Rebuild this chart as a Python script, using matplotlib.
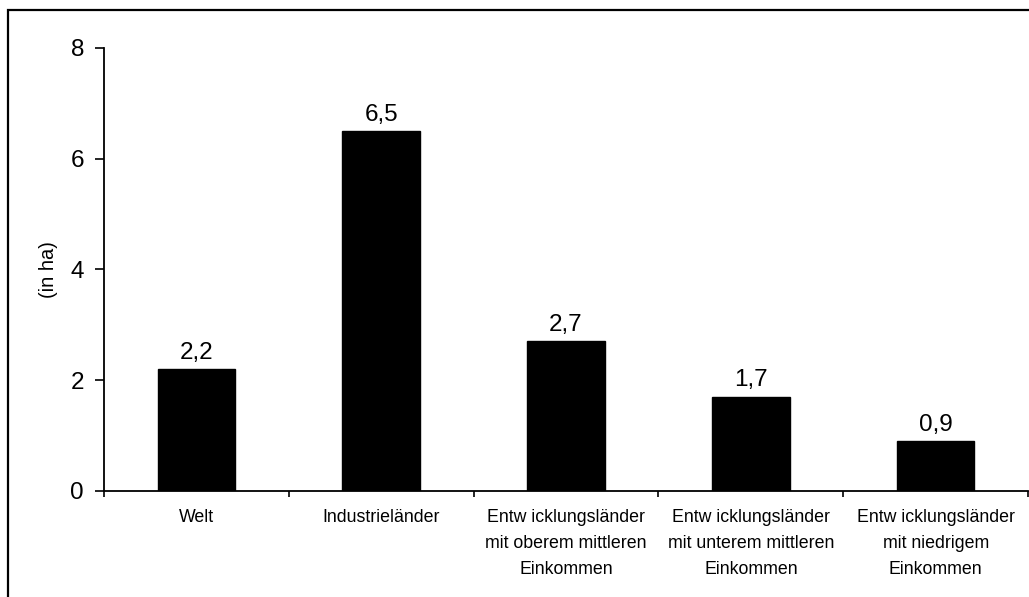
import numpy as np
import matplotlib.pyplot as plt
from matplotlib.patches import Rectangle

plt.rc("font", family=["Liberation Sans", "DejaVu Sans"])

categories = [
    "Welt",
    "Industrieländer",
    "Entw icklungsländer\nmit oberem mittleren\nEinkommen",
    "Entw icklungsländer\nmit unterem mittleren\nEinkommen",
    "Entw icklungsländer\nmit niedrigem\nEinkommen",
]
values = [2.2, 6.5, 2.7, 1.7, 0.9]
value_labels = ["2,2", "6,5", "2,7", "1,7", "0,9"]
yticks = [0, 2, 4, 6, 8]

fig = plt.figure(figsize=(10.29, 5.97), dpi=100)
ax = fig.add_axes([0.1011, 0.1776, 0.898, 0.742])

X = np.arange(len(categories))
ax.bar(X, values, width=0.42, color="black", edgecolor="black", zorder=2)

for x, v, lab in zip(X, values, value_labels):
    ax.annotate(lab, (x, v), xytext=(0, 4), textcoords="offset points",
                ha="center", va="bottom", size=17.5)

ax.set_xlim(-0.5, len(categories) - 0.5)
ax.set_ylim(0, 8)
ax.set_yticks(yticks)
ax.set_yticklabels([str(t) for t in yticks], size=17.5)
ax.tick_params(axis="y", direction="out", length=6.5, width=1.2, pad=8)

ax.set_xticks(X)
ax.set_xticklabels(categories, size=12.8, linespacing=1.68)
ax.set_xticks(np.arange(len(categories) + 1) - 0.5, minor=True)
ax.tick_params(axis="x", which="major", length=0, pad=13)
ax.tick_params(axis="x", which="minor", direction="out", length=4.5, width=1.2)

ax.set_ylabel("(in ha)", size=14.5)
ax.yaxis.set_label_coords(-0.05, 0.5)

ax.spines["right"].set_visible(False)
ax.spines["top"].set_visible(False)
ax.spines["left"].set_linewidth(1.3)
ax.spines["bottom"].set_linewidth(1.3)

# outer frame of the chart
fig.patches.append(Rectangle((8 / 1029, -0.1), 1.2, 0.1 + 1 - 10 / 597,
                             transform=fig.transFigure, fill=False,
                             edgecolor="black", linewidth=1.6))

plt.savefig("out.png", dpi=100)
